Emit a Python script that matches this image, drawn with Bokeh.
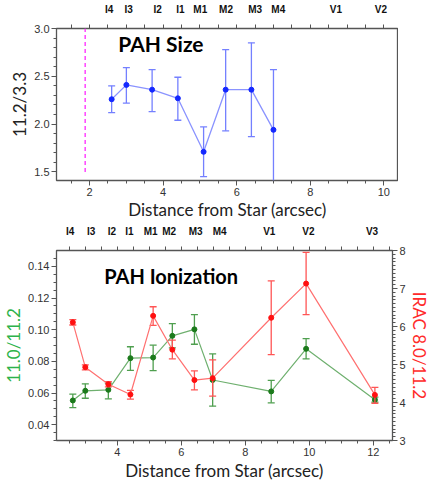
from bokeh.plotting import figure
from bokeh.models import (LinearAxis, FixedTicker, SingleIntervalTicker, Range1d, Label,
                          PrintfTickFormatter)
from bokeh.layouts import column
from bokeh.embed import file_html
from bokeh.resources import INLINE

# ---------------- data: PAH Size panel ----------------
size_x = [2.6, 3.0, 3.7, 4.4, 5.1, 5.7, 6.4, 7.0]
size_val = [2.26, 2.41, 2.36, 2.27, 1.71, 2.36, 2.36, 1.94]
size_hi = [2.40, 2.59, 2.57, 2.49, 1.97, 2.78, 2.85, 2.57]
size_lo = [2.12, 2.22, 2.13, 2.04, 1.45, 1.93, 1.87, 1.38]
top_label_names = ["I4", "I3", "I2", "I1", "M1", "M2", "M3", "M4", "V1", "V2"]
top_label_x = [2.53, 3.06, 3.85, 4.47, 5.01, 5.71, 6.5, 7.13, 8.7, 9.92]
star_edge_x = [1.88]
star_edge_y0 = [1.5]
star_edge_y1 = [3.0]

# ---------------- data: PAH Ionization panel ----------------
ion_x = [2.61, 3.0, 3.72, 4.41, 5.12, 5.72, 6.41, 6.98, 8.81, 9.9, 12.05]
g_val = [0.0553, 0.0614, 0.0620, 0.0820, 0.0824, 0.0961, 0.1002, 0.0682, 0.0610, 0.0879, 0.0557]
g_hi = [0.0593, 0.0658, 0.0663, 0.0892, 0.0902, 0.1038, 0.1095, 0.0847, 0.0680, 0.0944, 0.0574]
g_lo = [0.0508, 0.0567, 0.0563, 0.0743, 0.0741, 0.0885, 0.0908, 0.0517, 0.0538, 0.0815, 0.0542]
r_val = [6.11, 4.93, 4.48, 4.21, 6.28, 5.39, 4.59, 4.64, 6.23, 7.13, 4.20]
r_hi = [6.18, 4.99, 4.55, 4.32, 6.52, 5.64, 4.83, 5.12, 7.20, 7.95, 4.40]
r_lo = [6.04, 4.86, 4.41, 4.09, 6.03, 5.15, 4.33, 4.17, 5.26, 6.31, 3.98]
bot_label_names = ["I4", "I3", "I2", "I1", "M1", "M2", "M3", "M4", "V1", "V2", "V3"]
bot_label_x = [2.53, 3.18, 3.83, 4.38, 5.04, 5.62, 6.45, 7.2, 8.75, 9.97, 11.96]

TICK_FONT = "Liberation Sans"
LABEL_FONT = "Lato"
FRAME = "#555555"


def tick_style(ax, tout=5, minor_out=3):
    ax.axis_line_color = None
    ax.major_tick_in = 0
    ax.major_tick_out = tout
    ax.minor_tick_in = 0
    ax.minor_tick_out = minor_out
    ax.major_tick_line_color = FRAME
    ax.minor_tick_line_color = FRAME
    ax.major_label_text_font = TICK_FONT
    ax.major_label_text_font_size = "11px"
    ax.major_label_text_color = "#333333"
    ax.major_label_standoff = 2
    ax.axis_label_text_font = LABEL_FONT
    ax.axis_label_text_font_style = "normal"
    ax.axis_label_text_font_size = "17px"
    ax.axis_label_text_color = "#222222"
    ax.axis_label_standoff = 1


def mirror_axis(lo, hi, step, **kw):
    # tick-only axis (no labels): every tick drawn as a "minor" tick
    n = int(round((hi - lo) / step))
    ticks = [lo + i * step for i in range(n + 1)]
    ax = LinearAxis(ticker=FixedTicker(ticks=[], minor_ticks=ticks), **kw)
    ax.axis_line_color = None
    ax.minor_tick_in = 0
    ax.minor_tick_out = 4
    ax.minor_tick_line_color = FRAME
    return ax


def label_axis(xs, names):
    ax = LinearAxis(ticker=FixedTicker(ticks=xs),
                    major_label_overrides={x: n for x, n in zip(xs, names)})
    ax.axis_line_color = None
    ax.major_tick_line_color = None
    ax.minor_tick_line_color = None
    ax.major_label_text_font = TICK_FONT
    ax.major_label_text_font_style = "bold"
    ax.major_label_text_font_size = "10px"
    ax.major_label_text_color = "#111111"
    ax.major_label_standoff = 4
    return ax


def errbars(p, xs, lo, hi, color, **kw):
    p.segment(xs, lo, xs, hi, line_color=color, line_width=1.3, **kw)
    p.scatter(xs, hi, marker="dash", size=7, line_color=color, line_width=1.3, **kw)
    p.scatter(xs, lo, marker="dash", size=7, line_color=color, line_width=1.3, **kw)


# ================= top panel =================
p1 = figure(frame_width=342, frame_height=152, x_range=Range1d(1.1, 10.4), y_range=Range1d(1.41, 3.0),
            output_backend="svg", toolbar_location=None,
            min_border_left=40, min_border_right=6, min_border_top=4, min_border_bottom=4)
p1.grid.grid_line_color = None
p1.outline_line_color = FRAME
p1.outline_line_width = 1.3
p1.xaxis.ticker = SingleIntervalTicker(interval=2, num_minor_ticks=4)
p1.yaxis.ticker = SingleIntervalTicker(interval=0.5, num_minor_ticks=5)
p1.yaxis.formatter = PrintfTickFormatter(format="%.1f")
tick_style(p1.xaxis[0])
tick_style(p1.yaxis[0])
p1.xaxis.axis_label = "Distance from Star (arcsec)"
p1.yaxis.axis_label = "11.2/3.3"
p1.xaxis.axis_label_standoff = 0

p1.add_layout(mirror_axis(1.5, 10.0, 0.5), "above")
p1.add_layout(label_axis(top_label_x, top_label_names), "above")
p1.add_layout(mirror_axis(1.5, 3.0, 0.1), "right")

p1.segment(star_edge_x, star_edge_y0, star_edge_x, star_edge_y1, line_color="#ff44ff",
           line_width=1.5, line_dash="4 3")
errbars(p1, size_x, size_lo, size_hi, "#7480ff")
p1.line(size_x, size_val, line_color="#8a93ff", line_width=1.3)
p1.scatter(size_x, size_val, size=5, fill_color="#1428ff", line_color="#1428ff")
p1.add_layout(Label(x=2.78, y=2.84, text="PAH Size", text_font=LABEL_FONT, text_font_style="bold",
                    text_font_size="21px", text_baseline="middle", text_color="#000000"))

# ================= bottom panel =================
p2 = figure(frame_width=336, frame_height=190, x_range=Range1d(2.1, 12.6), y_range=Range1d(0.03, 0.15),
            output_backend="svg", toolbar_location=None,
            min_border_left=48, min_border_right=2, min_border_top=4, min_border_bottom=2)
p2.extra_y_ranges = {"irac": Range1d(3, 8)}
p2.grid.grid_line_color = None
p2.outline_line_color = FRAME
p2.outline_line_width = 1.3
p2.xaxis.ticker = SingleIntervalTicker(interval=2, num_minor_ticks=4)
p2.yaxis.ticker = SingleIntervalTicker(interval=0.02, num_minor_ticks=4)
p2.yaxis.formatter = PrintfTickFormatter(format="%.2f")
tick_style(p2.xaxis[0])
tick_style(p2.yaxis[0])
p2.xaxis.axis_label = "Distance from Star (arcsec)"
p2.yaxis.axis_label = "11.0/11.2"
p2.yaxis.axis_label_text_color = "#2db34a"

p2.add_layout(mirror_axis(2.5, 12.5, 0.5), "above")
p2.add_layout(label_axis(bot_label_x, bot_label_names), "above")

ax_r2 = LinearAxis(y_range_name="irac", ticker=SingleIntervalTicker(interval=1, num_minor_ticks=10))
tick_style(ax_r2, tout=5, minor_out=3)
ax_r2.axis_label = "IRAC 8.0/11.2"
ax_r2.axis_label_text_color = "#ff2a2a"
ax_r2.axis_label_standoff = 0
p2.add_layout(ax_r2, "right")

errbars(p2, ion_x, g_lo, g_hi, "#4f9f4f")
p2.line(ion_x, g_val, line_color="#6fb06f", line_width=1.2)
p2.scatter(ion_x, g_val, size=5, fill_color="#1b7a1b", line_color="#1b7a1b")

errbars(p2, ion_x, r_lo, r_hi, "#ff5555", y_range_name="irac")
p2.line(ion_x, r_val, line_color="#ff7070", line_width=1.2, y_range_name="irac")
p2.scatter(ion_x, r_val, size=5, fill_color="#ff1010", line_color="#ff1010", y_range_name="irac")

p2.add_layout(Label(x=3.59, y=0.134, text="PAH Ionization", text_font=LABEL_FONT,
                    text_font_style="bold", text_font_size="20px", text_baseline="middle",
                    text_color="#000000"))

layout = column(p1, p2, spacing=0)
open("out.html", "w").write(file_html(layout, INLINE))
